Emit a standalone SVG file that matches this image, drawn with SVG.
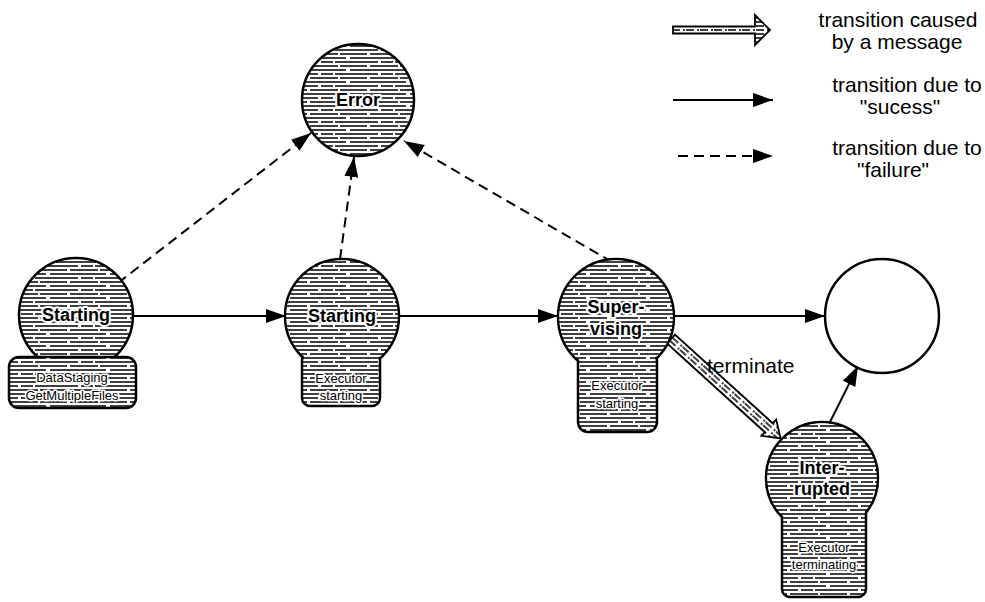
<svg xmlns="http://www.w3.org/2000/svg" width="985" height="602" viewBox="0 0 985 602">
<defs>
<pattern id="hatch" patternUnits="userSpaceOnUse" width="60" height="12">
<rect width="60" height="12" fill="#fff"/>
<line x1="0" y1="2" x2="60" y2="2" stroke="#000" stroke-width="1.6" stroke-dasharray="18 3 12 2 25 0"/>
<line x1="0" y1="6" x2="60" y2="6" stroke="#000" stroke-width="1.6" stroke-dasharray="7 3 28 2 20 0"/>
<line x1="0" y1="10" x2="60" y2="10" stroke="#000" stroke-width="1.6" stroke-dasharray="46 4 10 0"/>
</pattern>
<pattern id="ahatch" patternUnits="userSpaceOnUse" width="14" height="4">
<rect width="14" height="4" fill="#fff"/>
<line x1="0" y1="2" x2="14" y2="2" stroke="#000" stroke-width="1.4" stroke-dasharray="8 3 2 1"/>
</pattern>
<marker id="ah" markerUnits="userSpaceOnUse" markerWidth="22" markerHeight="16" refX="20" refY="7" orient="auto">
<path d="M0,0 L20,7 L0,14 Z" fill="#000" stroke="none"/>
</marker>
</defs>
<style>
.st{fill:url(#hatch);stroke:#000;stroke-width:2.5}
.fo{fill:url(#hatch);stroke:none}
.lb{font-family:"Liberation Sans",Arial,sans-serif;font-size:18px;font-weight:bold;text-anchor:middle;fill:#000;stroke:#fff;stroke-width:4;paint-order:stroke;stroke-linejoin:round}
.bx{font-family:"Liberation Sans",Arial,sans-serif;font-size:13px;text-anchor:middle;fill:#000;stroke:#fff;stroke-width:3;paint-order:stroke;stroke-linejoin:round}
.lg{font-family:"Liberation Sans",Arial,sans-serif;font-size:21px;text-anchor:middle;fill:#000}
.sol{fill:none;stroke:#000;stroke-width:2;marker-end:url(#ah)}
.dsh{fill:none;stroke:#000;stroke-width:2;stroke-dasharray:10 6;marker-end:url(#ah)}
.msg{fill:url(#ahatch);stroke:#000;stroke-width:1.8;stroke-linejoin:miter}
</style>
<rect width="985" height="602" fill="#fff"/>

<g id="connectors">
<path class="sol" d="M133,316 L286,316"/>
<path class="sol" d="M399,316 L558,316"/>
<path class="sol" d="M674,316 L825,316"/>
<path class="sol" d="M830,422 L858,366"/>
<path class="dsh" d="M118,283 L311,133"/>
<path class="dsh" d="M340,259 L354,157"/>
<path class="dsh" d="M612,262 L404,141"/>
<g transform="translate(671,339) rotate(42.2)">
<polygon class="msg" points="0,-6 132,-6 132,-11 148,0 132,11 132,6 0,6"/>
</g>
<text x="707" y="373" style="font-family:'Liberation Sans',Arial,sans-serif;font-size:21px">terminate</text>
</g>

<g id="node-error">
<circle class="st" cx="358" cy="100" r="56"/>
<text class="lb" x="358" y="106">Error</text>
</g>

<g id="node-starting1">
<circle class="st" cx="76" cy="315" r="57"/>
<rect class="st" x="9" y="357" width="127" height="51" rx="10"/>
<text class="lb" x="76" y="321">Starting</text>
<text class="bx" x="72" y="382">DataStaging</text>
<text class="bx" x="72" y="400">GetMultipleFiles</text>
</g>

<g id="node-starting2">
<circle class="st" cx="342" cy="316" r="57"/>
<rect class="st" x="302" y="352" width="78" height="54" rx="8"/>
<circle class="fo" cx="342" cy="316" r="55.5"/>
<text class="lb" x="342" y="322">Starting</text>
<text class="bx" x="341" y="383">Executor</text>
<text class="bx" x="341" y="400">starting</text>
</g>

<g id="node-supervising">
<circle class="st" cx="616" cy="317" r="58"/>
<rect class="st" x="578" y="352" width="79" height="80" rx="10"/>
<circle class="fo" cx="616" cy="317" r="56.5"/>
<text class="lb" x="616" y="313">Super-</text>
<text class="lb" x="616" y="335">vising</text>
<text class="bx" x="617" y="390">Executor</text>
<text class="bx" x="617" y="408">starting</text>
</g>

<g id="node-final">
<circle cx="882" cy="316" r="57" fill="#fff" stroke="#000" stroke-width="2.5"/>
</g>

<g id="node-interrupted">
<circle class="st" cx="822" cy="478" r="56"/>
<rect class="st" x="782" y="500" width="84" height="97" rx="8"/>
<circle class="fo" cx="822" cy="478" r="54.5"/>
<text class="lb" x="822" y="474">Inter-</text>
<text class="lb" x="822" y="495">rupted</text>
<text class="bx" x="824" y="552">Executor</text>
<text class="bx" x="824" y="569">terminating</text>
</g>

<g id="legend">
<polygon class="msg" points="673,26.5 755,26.5 755,15 770,30 755,45 755,33.5 673,33.5"/>
<text class="lg" x="898" y="27">transition caused</text>
<text class="lg" x="897" y="49">by a message</text>
<path class="sol" d="M673,100 L773,100"/>
<text class="lg" x="907" y="92">transition due to</text>
<text class="lg" x="900" y="114">"sucess"</text>
<path class="dsh" d="M678,156 L773,156"/>
<text class="lg" x="907" y="155">transition due to</text>
<text class="lg" x="893" y="177">"failure"</text>
</g>
</svg>
